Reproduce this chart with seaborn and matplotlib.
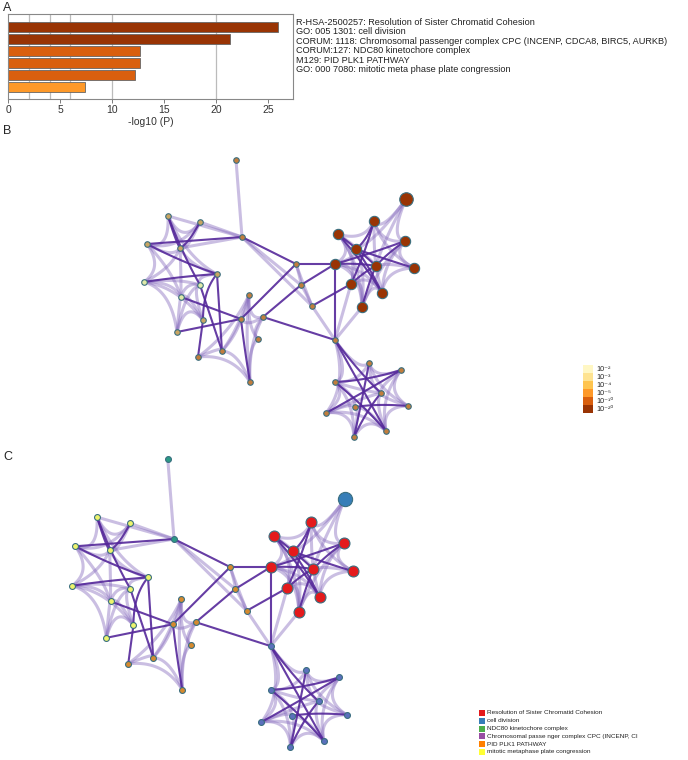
import numpy as np
import matplotlib
matplotlib.use("Agg")
import matplotlib.pyplot as plt
import seaborn as sns
from matplotlib.patches import Rectangle

sns.set_theme(style="white")
plt.rcParams['font.family'] = ['Liberation Sans', 'DejaVu Sans']

W, H = 688, 760

# ---- panel A data ----
terms = ["R-HSA-2500257: Resolution of Sister Chromatid Cohesion",
         "GO: 005 1301: cell division",
         "CORUM: 1118: Chromosomal passenger complex CPC (INCENP, CDCA8, BIRC5, AURKB)",
         "CORUM:127: NDC80 kinetochore complex",
         "M129: PID PLK1 PATHWAY",
         "GO: 000 7080: mitotic meta phase plate congression"]
logp = [26.0, 21.3, 12.7, 12.7, 12.2, 7.4]
bar_colors = ['#993404', '#993404', '#d95f0e', '#d95f0e', '#d95f0e', '#fe9929']
grid_x = [2, 4, 6, 10, 20]

# ---- network data (node positions in panel B pixel space) ----
node_ids = ['t0', 't1',
            'y0', 'y1', 'y2', 'y3', 'y4', 'y5', 'y6', 'y7', 'y8', 'y9',
            'o0', 'o1', 'o2', 'o3', 'o4', 'o5', 'o6', 'o7', 'o8', 'o9',
            'r0', 'r1', 'r2', 'r3', 'r4', 'r5', 'r6', 'r7', 'r8', 'r9', 'b0',
            'c0', 'p0', 'p1', 'p2', 'p3', 'p4', 'p5', 'p6', 'p7', 'p8']
node_x = [236, 242,
          168, 200, 147, 180, 144, 217, 200, 181, 203, 177,
          296, 301, 312, 249, 241, 263, 258, 222, 198, 250,
          374, 338, 405, 356, 335, 376, 414, 351, 382, 362, 406,
          335, 369, 401, 335, 381, 355, 408, 326, 354, 386]
node_y = [160, 237,
          216, 222, 244, 248, 282, 274, 285, 297, 320, 332,
          264, 285, 306, 295, 319, 317, 339, 351, 357, 382,
          221, 234, 241, 249, 264, 266, 268, 284, 293, 307, 199,
          340, 363, 370, 382, 393, 407, 406, 413, 437, 431]
layout_group = (['T'] * 2 + ['L'] * 10 + ['M1'] * 3 + ['M2'] * 7 + ['R'] * 11 + ['P'] * 10)
term_group = (['ndc'] * 2 + ['yel'] * 10 + ['plk'] * 10 + ['res'] * 10 + ['div'] + ['cpc'] * 10)
pval_group = (['mid'] * 2 +
              ['tan', 'tan', 'tan', 'tan', 'pale', 'tan', 'pale', 'pale', 'tan', 'tan'] +
              ['mid'] * 10 + ['p20'] * 11 + ['mid'] * 10)
node_size = [1] * 22 + [2] * 10 + [3] + [1] * 10

light_edges = [('t0', 't1'), ('t1', 'y0'), ('t1', 'y1'), ('t1', 'y3'), ('t1', 'o1'), ('t1', 'o2'),
               ('y0', 'y1'), ('y0', 'y2'), ('y1', 'y3'), ('y2', 'y3'), ('y1', 'y2'), ('y2', 'y4'),
               ('y3', 'y4'), ('y4', 'y7'), ('y4', 'y9'), ('y4', 'y6'), ('y7', 'y9'), ('y7', 'y8'),
               ('y9', 'y8'), ('y6', 'y8'), ('y5', 'y6'), ('y7', 'y6'), ('y3', 'y5'), ('y9', 'y6'),
               ('y2', 'y7'), ('y3', 'y7'), ('y0', 'y5'), ('y4', 'y8'),
               ('o0', 'o1'), ('o0', 'o2'), ('o1', 'o2'),
               ('o3', 'o4'), ('o3', 'o5'), ('o3', 'o6'), ('o4', 'o5'), ('o5', 'o6'), ('o3', 'o8'),
               ('o4', 'o7'), ('o6', 'o9'), ('o7', 'o9'), ('o8', 'o9'), ('o7', 'o8'), ('o3', 'o7'),
               ('o5', 'o9'), ('o3', 'o9'),
               ('b0', 'r0'), ('b0', 'r2'), ('b0', 'r3'), ('b0', 'r5'), ('r0', 'r1'), ('r0', 'r2'),
               ('r0', 'r5'), ('r1', 'r3'), ('r1', 'r4'), ('r1', 'r7'), ('r2', 'r6'), ('r3', 'r4'),
               ('r3', 'r5'), ('r4', 'r7'), ('r4', 'r9'), ('r5', 'r6'), ('r5', 'r8'), ('r6', 'r8'),
               ('r7', 'r8'), ('r7', 'r9'), ('r8', 'r9'), ('r1', 'r9'), ('r3', 'r9'), ('r2', 'r8'),
               ('r0', 'r6'), ('r2', 'r9'), ('r4', 'r8'),
               ('c0', 'r7'), ('c0', 'r9'), ('c0', 'o2'),
               ('c0', 'p0'), ('c0', 'p2'), ('c0', 'p6'), ('p0', 'p1'), ('p0', 'p2'), ('p0', 'p3'),
               ('p1', 'p3'), ('p1', 'p5'), ('p2', 'p6'), ('p2', 'p3'), ('p3', 'p5'), ('p3', 'p8'),
               ('p4', 'p6'), ('p4', 'p7'), ('p5', 'p8'), ('p6', 'p7'), ('p7', 'p8'), ('p2', 'p4'),
               ('p0', 'p5'), ('p1', 'p8'), ('p6', 'p3'), ('p4', 'p8'), ('p6', 'p8'), ('p2', 'p7')]
dark_edges = [('t1', 'y2'), ('t1', 'o0'),
              ('y0', 'y3'), ('y1', 'y3'), ('y2', 'y5'), ('y4', 'y5'), ('y5', 'y8'), ('y0', 'y6'),
              ('y7', 'o4'), ('y9', 'o4'), ('y8', 'o8'), ('y6', 'o7'), ('y5', 'o7'),
              ('o4', 'o9'), ('o4', 'o0'), ('o5', 'o1'), ('o0', 'r4'), ('o1', 'r4'), ('o2', 'r7'),
              ('o5', 'c0'), ('c0', 'r4'),
              ('r1', 'r5'), ('r1', 'r8'), ('r0', 'r7'), ('r3', 'r6'), ('r4', 'r5'), ('r4', 'r2'),
              ('r5', 'r9'), ('r0', 'r3'), ('r3', 'r8'), ('r2', 'r5'), ('r7', 'r5'),
              ('c0', 'p3'), ('c0', 'p8'), ('p2', 'p1'), ('p6', 'p1'), ('p0', 'p7'), ('p4', 'p5'),
              ('p2', 'p8'), ('p3', 'p7')]

pval_colors = {'p20': '#993404', 'mid': '#c27d3c', 'tan': '#c9a562', 'pale': '#dfe9a8'}
term_colors = {'res': '#e41a1c', 'div': '#377eb8', 'ndc': '#2b9a86', 'yel': '#eef46c',
               'plk': '#d68a2e', 'cpc': '#5b70bd'}

bin_colors = ['#fff7c4', '#fee391', '#fec44f', '#fe9929', '#d95f0e', '#993404']
bin_labels = ['10⁻²', '10⁻³', '10⁻⁴', '10⁻⁵', '10⁻¹⁰', '10⁻²⁰']

legend_terms = ["Resolution of Sister Chromatid Cohesion", "cell division",
                "NDC80 kinetochore complex", "Chromosomal passe nger complex CPC (INCENP, CI",
                "PID PLK1 PATHWAY", "mitotic metaphase plate congression"]
legend_colors = ['#e41a1c', '#377eb8', '#4daf4a', '#984ea3', '#ff7f00', '#ffff33']

pos = {n: np.array([x, y], float) for n, x, y in zip(node_ids, node_x, node_y)}
lgroup = dict(zip(node_ids, layout_group))
centroid = {}
for g in set(layout_group):
    pts = [pos[n] for n in node_ids if lgroup[n] == g]
    centroid[g] = np.mean(pts, axis=0)


def draw_edges(ax, edges, lw, color, alpha, bend):
    t = np.linspace(0, 1, 30)[:, None]
    for a, b in edges:
        p, q = pos[a], pos[b]
        m = (p + q) / 2
        if lgroup[a] == lgroup[b]:
            c = m + bend * (centroid[lgroup[a]] - m)
        else:
            c = m
        pts = (1 - t) ** 2 * p + 2 * (1 - t) * t * c + t ** 2 * q
        ax.plot(pts[:, 0], pts[:, 1], color=color, lw=lw, alpha=alpha,
                solid_capstyle='round', zorder=1)


def draw_network(ax, colors, cat, sizes):
    draw_edges(ax, light_edges, 2.2, '#8a70c0', 0.45, 0.5)
    draw_edges(ax, dark_edges, 1.5, '#55289a', 0.9, 0.25)
    for i in range(len(node_ids)):
        sns.scatterplot(x=[node_x[i]], y=[node_y[i]], color=colors[cat[i]],
                        s=sizes[node_size[i]], edgecolor='#3b6f80', linewidth=0.8,
                        ax=ax, zorder=3, legend=False)


fig = plt.figure(figsize=(W / 100, H / 100), dpi=100)

# ---- panel B (pixel space) ----
axB = fig.add_axes([0, 0, 1, 1])
axB.patch.set_alpha(0)
draw_network(axB, pval_colors, pval_group, {1: 16, 2: 55, 3: 95})
axB.set_xlim(0, W)
axB.set_ylim(H, 0)
axB.axis('off')

for i, (c, lab) in enumerate(zip(bin_colors, bin_labels)):
    axB.add_patch(Rectangle((583, 365 + i * 8), 10, 8, facecolor=c, edgecolor='none'))
    axB.text(596, 369.5 + i * 8, lab, fontsize=5.2, va='center', color='#222222')

for i, (c, lab) in enumerate(zip(legend_colors, legend_terms)):
    axB.add_patch(Rectangle((479, 710 + i * 7.8), 6, 6, facecolor=c, edgecolor='none'))
    axB.text(487, 713 + i * 7.8, lab, fontsize=4.6, va='center', color='#222222')

fig.text(3 / W, 1 - 2 / H, 'A', fontsize=9, va='top')
fig.text(3 / W, 1 - 125 / H, 'B', fontsize=9, va='top')
fig.text(3 / W, 1 - 451 / H, 'C', fontsize=9, va='top')

# ---- panel C (same layout, scaled and shifted) ----
sc, hx, hy, cx, cy = 1.04, 242, 237, 174, 539
axC = fig.add_axes([0, 0, 1, 1])
axC.patch.set_alpha(0)
draw_network(axC, term_colors, term_group, {1: 18, 2: 62, 3: 105})
axC.set_xlim(hx + (0 - cx) / sc, hx + (W - cx) / sc)
axC.set_ylim(hy + (H - cy) / sc, hy + (0 - cy) / sc)
axC.axis('off')

# ---- panel A ----
axA = fig.add_axes([8 / W, 1 - 99 / H, 285 / W, 85 / H])
sns.barplot(x=logp, y=terms, hue=terms, palette=bar_colors, legend=False, orient='h',
            width=0.82, saturation=1, edgecolor='#666666', linewidth=0.6, ax=axA)
axA.set_xlim(0, 27.4)
axA.set_ylim(6.0, -1.08)
for gx in grid_x:
    axA.axvline(gx, color='#bbbbbb', lw=0.9, zorder=0)
axA.set_yticks([])
axA.set_ylabel('')
axA.set_xticks([0, 5, 10, 15, 20, 25])
axA.tick_params(axis='x', labelsize=7.5, length=3, width=0.6, color='#666666',
                pad=1.5, labelcolor='#333333', bottom=True)
axA.set_xlabel('-log10 (P)', fontsize=7.5, labelpad=1, color='#333333')
for s in axA.spines.values():
    s.set_color('#888888')
    s.set_linewidth(0.8)
# term labels sit in a tighter block than the bars
for i, t in enumerate(terms):
    fig.text(296 / W, 1 - (22.5 + 9.4 * i) / H, t, fontsize=6.6,
             va='center', ha='left', color='#222222')

fig.savefig('out.png', dpi=100)
